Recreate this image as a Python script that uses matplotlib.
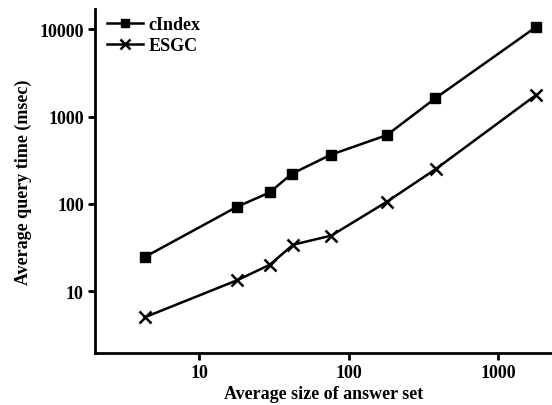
import matplotlib
matplotlib.use("Agg")
import matplotlib.pyplot as plt
from matplotlib.ticker import FixedLocator, NullLocator

plt.rcParams['font.family'] = ['Liberation Serif', 'DejaVu Serif']
plt.rcParams['font.weight'] = 'bold'
plt.rcParams['axes.labelweight'] = 'bold'

# answer set size and query times (msec)
cindex_x = [4.3, 17.9, 29.6, 41.5, 75.7, 180, 379, 1807]
cindex_y = [24.5, 92.5, 135, 220, 364, 612, 1610, 10670]
esgc_x = [4.3, 17.9, 29.6, 42.5, 76.5, 181, 383, 1807]
esgc_y = [5.0, 13.3, 20.0, 34.0, 43.2, 106, 250, 1775]

yticks = [10, 100, 1000, 10000]
xticks = [10, 100, 1000]

fig = plt.figure(figsize=(5.52, 4.06), dpi=100)
ax = fig.add_axes([0.172, 0.128, 0.828, 0.847])

ax.plot(cindex_x, cindex_y, color='black', lw=1.8, marker='s', ms=7.5,
        label='cIndex')
ax.plot(esgc_x, esgc_y, color='black', lw=1.8, marker='x', ms=9, mew=1.8,
        label='ESGC')

ax.set_xscale('log')
ax.set_yscale('log')
ax.set_xlim(2.0, 2300)
ax.set_ylim(1.95, 17000)

ax.xaxis.set_major_locator(FixedLocator(xticks))
ax.yaxis.set_major_locator(FixedLocator(yticks))
ax.xaxis.set_minor_locator(NullLocator())
ax.yaxis.set_minor_locator(NullLocator())
ax.set_xticklabels([str(t) for t in xticks])
ax.set_yticklabels([str(t) for t in yticks])

for s in ['top', 'right']:
    ax.spines[s].set_visible(False)
for s in ['left', 'bottom']:
    ax.spines[s].set_linewidth(2)
ax.tick_params(direction='out', length=5, width=2, labelsize=13, pad=3)

ax.set_xlabel('Average size of answer set', fontsize=13, labelpad=3)
ax.set_ylabel('Average query time (msec)', fontsize=13, labelpad=5)

leg = ax.legend(loc='upper left', frameon=False, fontsize=13,
                handlelength=2.0, handletextpad=0.3, borderaxespad=0.0,
                labelspacing=0.2, markerscale=0.85,
                bbox_to_anchor=(0.01, 1.0))

fig.savefig('out.png', dpi=100)
